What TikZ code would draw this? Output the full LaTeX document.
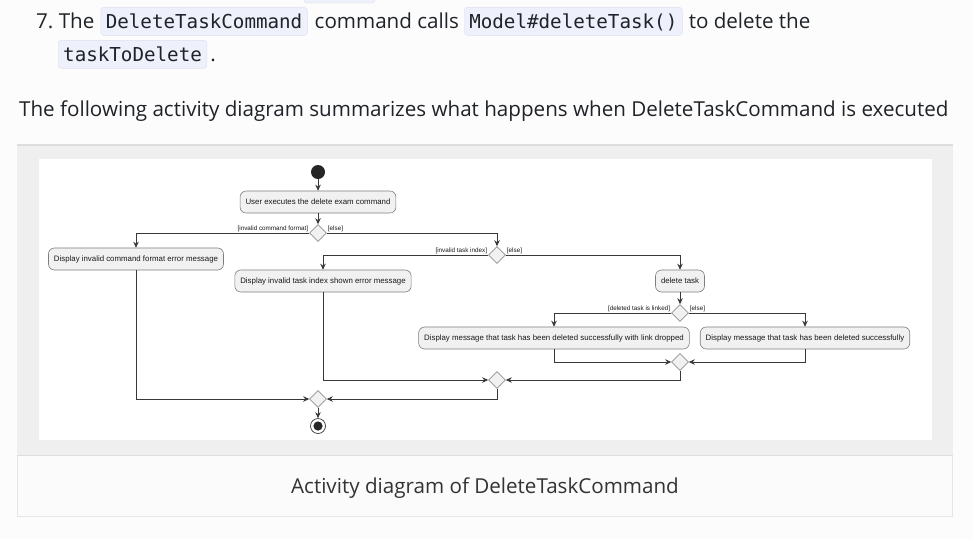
\documentclass[tikz,border=0pt]{standalone}
\usepackage{fontspec}
\setmainfont{Open Sans}
\setsansfont{Liberation Sans}
\setmonofont{DejaVu Sans Mono}
\usetikzlibrary{arrows.meta, positioning, shapes.geometric, calc}
\definecolor{pagebg}{RGB}{252,252,252}
\definecolor{panelgray}{RGB}{239,239,239}
\definecolor{panelline}{RGB}{221,221,221}
\definecolor{capfill}{RGB}{251,251,251}
\definecolor{capline}{RGB}{230,230,230}
\definecolor{codebg}{RGB}{238,240,251}
\definecolor{codeline}{RGB}{222,225,240}
\definecolor{umlfill}{RGB}{241,241,241}
\definecolor{umlline}{RGB}{56,56,56}
\definecolor{bodytext}{RGB}{31,35,40}
\tikzstyle{body}   = [inner sep=0pt, text=bodytext, font=\fontsize{20.6}{24}\selectfont]
\tikzstyle{code}   = [rectangle, rounded corners=3pt, draw=codeline, fill=codebg, text=bodytext,
                       inner xsep=5pt, minimum height=28pt, text height=17pt, text depth=3.6pt,
                       font=\ttfamily\fontsize{19.2}{23}\selectfont]
\tikzstyle{act}    = [rectangle, rounded corners=6pt, draw=umlline!65, fill=umlfill, line width=0.6pt,
                       minimum height=22pt, inner xsep=5.5pt, text=black!90,
                       font=\sffamily\fontsize{7.85}{9}\selectfont]
\tikzstyle{branch} = [diamond, draw=umlline!55, fill=umlfill, line width=0.6pt,
                       minimum size=17pt, inner sep=0pt]
\tikzstyle{guard}  = [inner sep=0.8pt, text=black!90, font=\sffamily\fontsize{6.3}{7}\selectfont]
\tikzstyle{arr}    = [-{Stealth[length=6pt, width=5.5pt, inset=2pt]}, line width=0.7pt, draw=umlline]

\begin{document}
\begin{tikzpicture}[x=1pt, y=-1pt]
    \useasboundingbox (0,0) rectangle (974,539);
    \fill[pagebg] (0,0) rectangle (974,539);

    % page text above the figure
    \draw[codeline, fill=codebg, rounded corners=3pt] (304,-20) rectangle (375,3);
    \node[body, anchor=base west] (l1a) at (36,28) {7.\ The};
    \node[code, base right=6pt of l1a] (l1b) {DeleteTaskCommand};
    \node[body, base right=7pt of l1b] (l1c) {command calls};
    \node[code, base right=5pt of l1c] (l1d) {Model\#deleteTask()};
    \node[body, base right=6pt of l1d] (l1e) {to delete the};
    \node[code, anchor=base west] (l2a) at (58,61) {taskToDelete};
    \node[body, base right=3pt of l2a] (l2b) {.};
    \node[body, anchor=base west] (l3) at (19,116)
      {The following activity diagram summarizes what happens when DeleteTaskCommand is executed};

    % figure frame and caption
    \draw[capline, fill=capfill] (17.5,144.5) rectangle (952.5,516.5);
    \fill[panelgray] (17,144) rectangle (953,455);
    \draw[panelline, line width=1.5pt] (17,144.75) -- (953,144.75);
    \draw[panelline, line width=1.5pt] (17,455.5) -- (953,455.5);
    \fill[white] (39,159) rectangle (932,440);
    \node[body, text=black!80] (cap) at (485,488) {Activity diagram of DeleteTaskCommand};

    % activity diagram
    \node[circle, fill=black!85, minimum size=14pt, inner sep=0pt] (start) at (318,172) {};
    \node[act] (user)   at (318,202) {User executes the delete exam command};
    \node[branch] (d1)  at (318,233) {};
    \node[act] (fmt)    at (136,259) {Display invalid command format error message};
    \node[branch] (d2)  at (497,255) {};
    \node[act] (idx)    at (323,281) {Display invalid task index shown error message};
    \node[act] (del)    at (680,281) {delete task};
    \node[branch] (d3)  at (680,313) {};
    \node[act] (linked) at (554,338) {Display message that task has been deleted successfully with link dropped};
    \node[act] (succ)   at (805,338) {Display message that task has been deleted successfully};
    \node[branch] (d4)  at (680,362) {};
    \node[branch] (d5)  at (497,380) {};
    \node[branch] (d6)  at (318,399) {};
    \node[circle, draw=umlline, fill=white, line width=0.7pt, minimum size=15pt, inner sep=0pt,
          path picture={\fill[black!85] (path picture bounding box.center) circle (4.6pt);}]
         (stop) at (318,426) {};

    \draw[arr] (start) -- (user);
    \draw[arr] (user) -- (d1);
    \draw[arr] (d1.west) -| (fmt) node[guard, pos=0, anchor=south east] {[invalid command format]};
    \draw[arr] (d1.east) -| (d2) node[guard, pos=0, anchor=south west] {[else]};
    \draw[arr] (d2.west) -| (idx) node[guard, pos=0, anchor=south east] {[invalid task index]};
    \draw[arr] (d2.east) -| (del) node[guard, pos=0, anchor=south west] {[else]};
    \draw[arr] (del) -- (d3);
    \draw[arr] (d3.west) -| (linked) node[guard, pos=0, anchor=south east] {[deleted task is linked]};
    \draw[arr] (d3.east) -| (succ) node[guard, pos=0, anchor=south west] {[else]};
    \draw[arr] (linked) |- (d4);
    \draw[arr] (succ) |- (d4);
    \draw[arr] (d4) |- (d5);
    \draw[arr] (idx) |- (d5);
    \draw[arr] (d5) |- (d6);
    \draw[arr] (fmt) |- (d6);
    \draw[arr] (d6) -- (stop);
  \end{tikzpicture}
\end{document}
